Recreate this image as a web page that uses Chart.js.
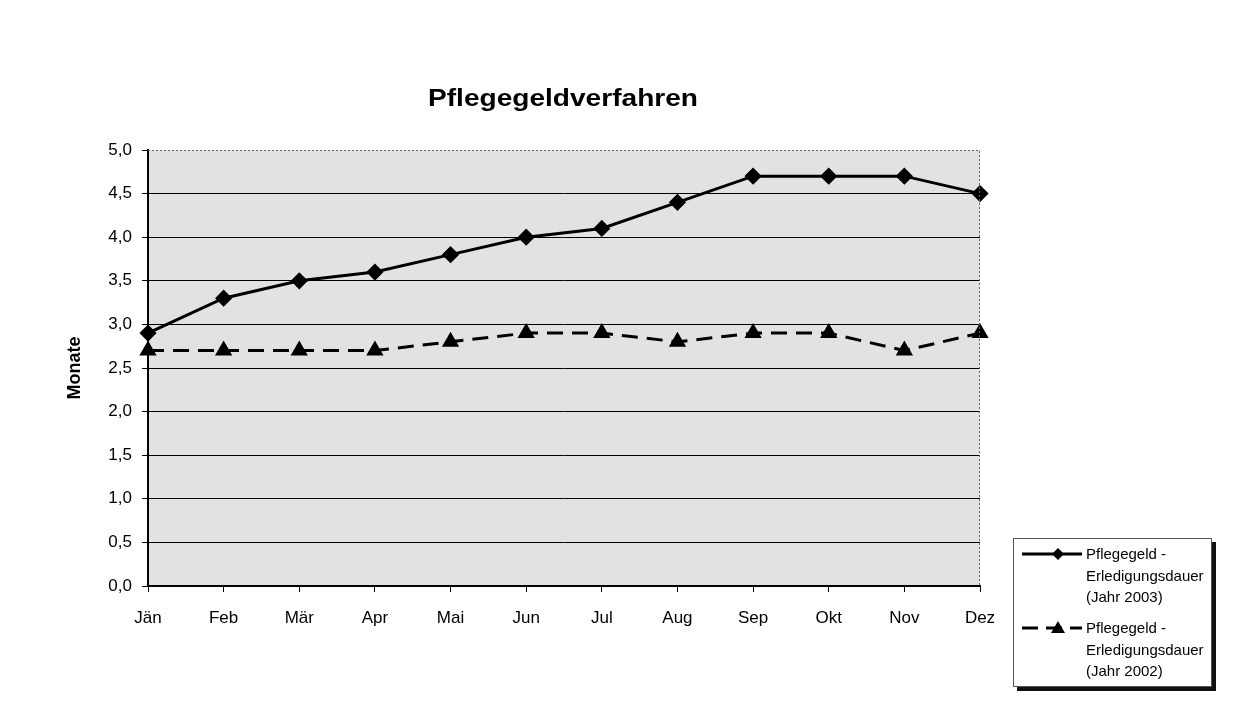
<!DOCTYPE html>
<html>
<head>
<meta charset="utf-8">
<script src="https://cdn.jsdelivr.net/npm/chart.js@4/dist/chart.umd.min.js"></script>
<style>
  html, body { margin: 0; padding: 0; background: #fff; }
  #wrap { position: relative; width: 1255px; height: 708px; overflow: hidden; font-family: "Liberation Sans", Arial, sans-serif; }
  #c { position: absolute; left: 0; top: 0; }
  #title { position: absolute; left: 363px; width: 400px; top: 84px; text-align: center; font-weight: bold; font-size: 24px; transform: scaleX(1.17); color: #000; }
  #legend { position: absolute; left: 1013px; top: 538px; width: 197px; height: 147px; border: 1px solid #555; background: #fff; box-shadow: 4px 4px 0 #111; font-size: 15px; line-height: 21.7px; color: #000; }
  .item { position: absolute; left: 0; width: 197px; }
  .item svg { position: absolute; left: 6px; }
  .item .txt { position: absolute; left: 72px; }
</style>
</head>
<body>
<div id="wrap">
  <canvas id="c" width="1255" height="708"></canvas>
  <div id="title">Pflegegeldverfahren</div>
  <div id="legend">
    <div class="item" style="top:4px">
      <svg width="62" height="20" style="top:1px"><line x1="2" y1="10" x2="62" y2="10" stroke="#000" stroke-width="3"/><polygon points="38,4 44,10 38,16 32,10" fill="#000"/></svg>
      <div class="txt">Pflegegeld -<br>Erledigungsdauer<br>(Jahr 2003)</div>
    </div>
    <div class="item" style="top:78px">
      <svg width="62" height="20" style="top:1px"><line x1="2" y1="10" x2="62" y2="10" stroke="#000" stroke-width="3" stroke-dasharray="16,8"/><polygon points="38,3 45,15 31,15" fill="#000"/></svg>
      <div class="txt">Pflegegeld -<br>Erledigungsdauer<br>(Jahr 2002)</div>
    </div>
  </div>
</div>
<script>
  var months = ['Jän', 'Feb', 'Mär', 'Apr', 'Mai', 'Jun', 'Jul', 'Aug', 'Sep', 'Okt', 'Nov', 'Dez'];
  var dauer2003 = [2.9, 3.3, 3.5, 3.6, 3.8, 4.0, 4.1, 4.4, 4.7, 4.7, 4.7, 4.5];
  var dauer2002 = [2.7, 2.7, 2.7, 2.7, 2.8, 2.9, 2.9, 2.8, 2.9, 2.9, 2.7, 2.9];
  var yMin = 0, yMax = 5, yStep = 0.5;

  var FONT = '"Liberation Sans", Arial, sans-serif';

  // grey plot background + dotted top/right frame
  var frame = {
    id: 'frame',
    beforeDraw: function (c) {
      var a = c.chartArea, ctx = c.ctx;
      ctx.save();
      ctx.fillStyle = '#e2e2e2';
      ctx.fillRect(a.left, a.top, a.right - a.left, a.bottom - a.top);
      ctx.restore();
    },
    afterDraw: function (c) {
      var a = c.chartArea, ctx = c.ctx;
      ctx.save();
      ctx.strokeStyle = '#666'; ctx.lineWidth = 1; ctx.setLineDash([2, 2]);
      ctx.beginPath();
      ctx.moveTo(a.left, a.top + 0.5); ctx.lineTo(a.right - 0.5, a.top + 0.5); ctx.lineTo(a.right - 0.5, a.bottom);
      ctx.stroke();
      ctx.restore();
    }
  };

  new Chart(document.getElementById('c').getContext('2d'), {
    type: 'line',
    data: {
      labels: months,
      datasets: [
        { label: 'Pflegegeld - Erledigungsdauer (Jahr 2003)', data: dauer2003, borderColor: '#000', borderWidth: 3,
          pointStyle: 'rectRot', pointRadius: 6.5, pointBackgroundColor: '#000', pointBorderColor: '#000', tension: 0, clip: false },
        { label: 'Pflegegeld - Erledigungsdauer (Jahr 2002)', data: dauer2002, borderColor: '#000', borderWidth: 3, borderDash: [16, 9],
          pointStyle: 'triangle', pointRadius: 7, pointBackgroundColor: '#000', pointBorderColor: '#000', tension: 0, clip: false }
      ]
    },
    plugins: [frame],
    options: {
      responsive: false, animation: false, devicePixelRatio: 1,
      layout: { padding: { top: 150, right: 275, bottom: 0, left: 0 } },
      plugins: { legend: { display: false }, tooltip: { enabled: false }, title: { display: false } },
      scales: {
        x: {
          offset: false,
          afterFit: function (s) { s.height = 122; },
          grid: { drawOnChartArea: false, drawTicks: true, tickLength: 6, color: '#000' },
          border: { color: '#000', width: 2 },
          ticks: { color: '#000', padding: 16, maxRotation: 0, font: { family: FONT, size: 17 } }
        },
        y: {
          min: yMin, max: yMax,
          afterFit: function (s) { s.width = 148; },
          grid: { color: function (ctx) { return ctx.tick && ctx.tick.value === yMax ? 'rgba(0,0,0,0)' : '#000'; }, lineWidth: 1, tickLength: 6, drawTicks: true, tickColor: '#000' },
          border: { color: '#000', width: 2 },
          ticks: { stepSize: yStep, color: '#000', padding: 10, font: { family: FONT, size: 17 },
            callback: function (v) { return v.toFixed(1).replace('.', ','); } },
          title: { display: true, text: 'Monate', color: '#000', font: { family: FONT, size: 18, weight: 'bold' }, padding: { top: 64 } }
        }
      }
    }
  });
</script>
</body>
</html>
